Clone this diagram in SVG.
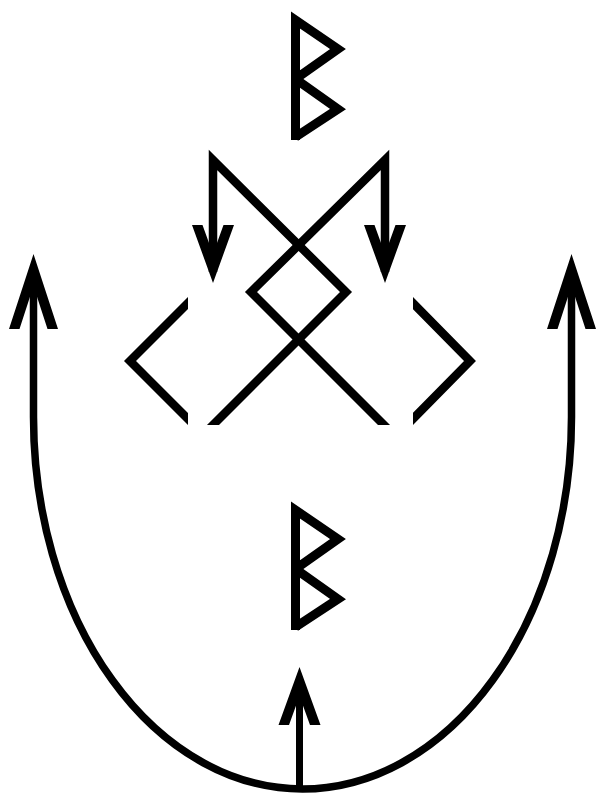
<svg xmlns="http://www.w3.org/2000/svg" width="600" height="797" viewBox="0 0 600 797">
  <style>
    .ln { fill: none; stroke: #000; stroke-width: 8.5; stroke-linejoin: miter; stroke-linecap: butt; }
    .rune { fill: none; stroke: #000; stroke-width: 9; stroke-linejoin: miter; stroke-miterlimit: 3; }
    .curve { fill: none; stroke: #000; stroke-width: 7.5; }
    .head { fill: #000; stroke: none; }
  </style>
  <defs>
    <path id="headS" d="M0,0 L-21,58 L-10.5,58 L0,29 L10.5,58 L21,58 Z"/>
    <path id="headL" d="M0,0 L-24.5,75 L-14,75 L0,32 L14,75 L24.5,75 Z"/>
    <clipPath id="clipL"><rect x="0" y="0" width="188" height="797"/></clipPath>
    <clipPath id="clipR"><rect x="413" y="0" width="187" height="797"/></clipPath>
    <clipPath id="clipB"><rect x="0" y="0" width="600" height="425"/></clipPath>
  </defs>
  <rect width="600" height="797" fill="#fff"/>

  <g id="rune-top">
    <path class="rune" d="M295.5,140 L295.5,20 L338,49 L295.5,79"/>
    <path class="rune" d="M295.5,79 L338,109 L295.5,137"/>
  </g>

  <g id="knot">
    <path class="ln" clip-path="url(#clipB)" d="M213,272 L213,160 L346,292 L200,438"/>
    <path class="ln" clip-path="url(#clipB)" d="M385,272 L385,160 L251,292 L397,438"/>
    <path class="ln" clip-path="url(#clipL)" d="M196,295 L130,361 L196,427"/>
    <path class="ln" clip-path="url(#clipR)" d="M405,295 L470,361 L405,427"/>
  </g>

  <g id="rune-bottom">
    <path class="rune" d="M295.5,630 L295.5,510 L338,539 L295.5,569"/>
    <path class="rune" d="M295.5,569 L338,599 L295.5,627"/>
  </g>

  <g id="connectors">
    <use href="#headS" class="head" transform="translate(213,283) rotate(180)"/>
    <use href="#headS" class="head" transform="translate(385,283) rotate(180)"/>
    <path class="curve" d="M33.5,280 L33.5,417 A269,372 0 0 0 571.5,417 L571.5,280"/>
    <use href="#headL" class="head" transform="translate(33.5,254)"/>
    <use href="#headL" class="head" transform="translate(571.5,254)"/>
    <line class="ln" x1="299.5" y1="690" x2="299.5" y2="789" style="stroke-width:7"/>
    <use href="#headS" class="head" transform="translate(299.5,667)"/>
  </g>
</svg>
